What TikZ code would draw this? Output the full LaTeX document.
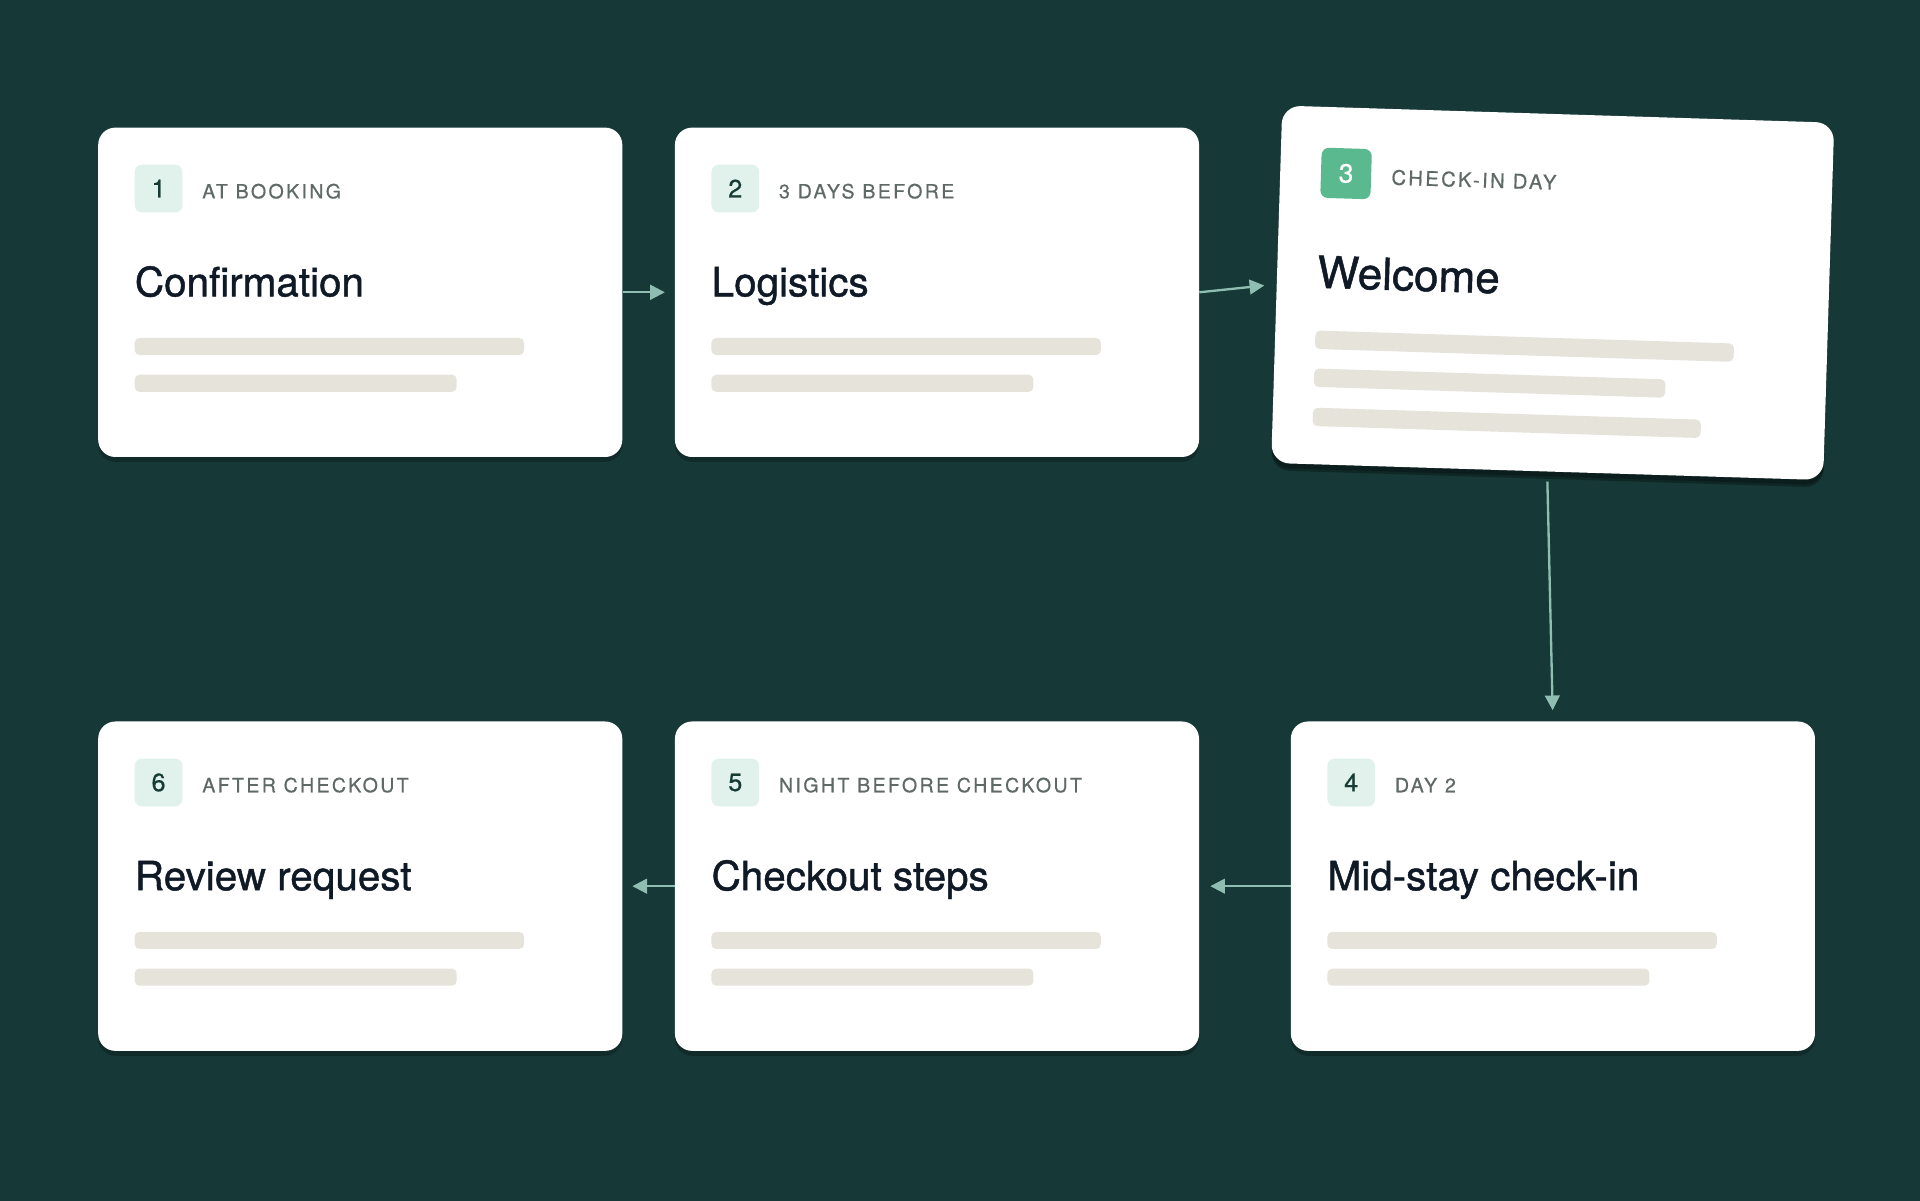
\documentclass[tikz,border=0pt]{standalone}
\usepackage{fontspec}
\setmainfont{TeX Gyre Heros}
\newfontfamily\lblfont[LetterSpace=12,FakeBold=0.5]{TeX Gyre Heros}
\newfontfamily\ttlfont[FakeBold=1.1]{TeX Gyre Heros}
\newfontfamily\numfont[FakeBold=0.6]{TeX Gyre Heros}
\usetikzlibrary{arrows.meta,shadows}
\definecolor{bgc}{HTML}{163836}
\definecolor{arrowc}{HTML}{8FBDB1}
\definecolor{badgec}{HTML}{E0F2EB}
\definecolor{badgeg}{HTML}{5BB98F}
\definecolor{numc}{HTML}{173A35}
\definecolor{lblc}{HTML}{5F6966}
\definecolor{ttlc}{HTML}{101A26}
\definecolor{barc}{HTML}{E6E3DA}
\tikzset{
  cardbox/.style={fill=white, draw=none, rounded corners=14pt, inner sep=0pt,
    minimum width=428pt, minimum height=269pt, anchor=north west,
    drop shadow={shadow xshift=0pt, shadow yshift=-4pt, fill=black, opacity=0.22}},
  badgebox/.style={fill=badgec, rounded corners=6pt, minimum size=39pt, inner sep=0pt,
    text=numc, font=\numfont\fontsize{20.5}{22}\selectfont},
  lbl/.style={inner sep=0pt, anchor=base west, text=lblc, font=\lblfont\fontsize{16}{18}\selectfont},
  ttl/.style={inner sep=0pt, anchor=base west, text=ttlc, font=\ttlfont\fontsize{33}{38}\selectfont},
  barline/.style={fill=barc, rounded corners=4pt},
  conn/.style={draw=arrowc, line width=1.9pt, -{Triangle[length=12pt,width=12pt]}}
}
\newcommand\stepcard[6]{%
  \begin{scope}[shift={(#2,#3)}]
    \node[cardbox] (#1) at (0,0) {};
    \node[badgebox] (#1n) at (49.5,50) {#4};
    \node[lbl] (#1l) at (85,58) {#5};
    \node[ttl] (#1t) at (30,138) {#6};
    \fill[barline] (30,172) rectangle (348,186);
    \fill[barline] (30,202) rectangle (293,216);
  \end{scope}}
\begin{document}
\begin{tikzpicture}[x=1pt,y=-1pt]
  \useasboundingbox (0,0) rectangle (1568,980);
  \fill[bgc] (-3,-3) rectangle (1571,983);
  \stepcard{c1}{80}{104}{1}{AT BOOKING}{Confirmation}
  \stepcard{c2}{551}{104}{2}{3 DAYS BEFORE}{Logistics}
  \stepcard{c4}{1054}{589}{4}{DAY 2}{Mid-stay check-in}
  \stepcard{c5}{551}{589}{5}{NIGHT BEFORE CHECKOUT}{Checkout steps}
  \stepcard{c6}{80}{589}{6}{AFTER CHECKOUT}{Review request}
  % card 3, tilted
  \begin{scope}[shift={(1047,86)}, rotate=-1.78, every node/.append style={transform shape}]
    \node[cardbox, minimum width=451pt, minimum height=292pt, rounded corners=15pt,
      drop shadow={shadow xshift=0pt, shadow yshift=-6pt, fill=black, opacity=0.3}] (c3) at (0,0) {};
    \node[badgebox, fill=badgeg, text=white, minimum size=41pt, font=\numfont\fontsize{21.5}{23}\selectfont] (c3n) at (54,54) {3};
    \node[lbl, font=\lblfont\fontsize{16.5}{19}\selectfont] (c3l) at (91,62) {CHECK-IN DAY};
    \node[ttl, font=\ttlfont\fontsize{36}{42}\selectfont] (c3t) at (33,148) {Welcome};
    \fill[barline] (33,183) rectangle (375,198);
    \fill[barline] (33,214) rectangle (320,229);
    \fill[barline] (33,246) rectangle (350,261);
  \end{scope}
  % connectors
  \draw[conn, shorten >=8pt] (c1.east) -- (c2.west);
  \draw[conn, shorten >=10pt] (c2.east) -- (c3.west);
  \draw[conn, shorten <=8pt, shorten >=9pt] (c3.south) -- (c4.north);
  \draw[conn, shorten >=9pt] (c4.west) -- (c5.east);
  \draw[conn, shorten >=8pt] (c5.west) -- (c6.east);
\end{tikzpicture}
\end{document}
